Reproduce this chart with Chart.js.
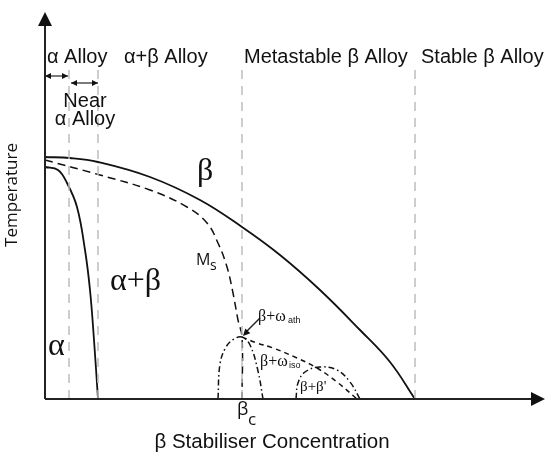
<!doctype html>
<html lang="en">
 <head>
  <meta charset="UTF-8">
  <title>Titanium alloy phase diagram</title>
  <script src="https://cdn.jsdelivr.net/npm/chart.js@4/dist/chart.umd.min.js"></script>
  <style>
   html, body { margin: 0; padding: 0; background: #fff; }
   #wrap { width: 547px; height: 460px; }
  </style>
 </head>
 <body>
  <div id="wrap"><canvas id="chart" width="547" height="460"></canvas></div>
  <script>
// x = beta stabiliser concentration, y = temperature (arbitrary units)
var transusX = [0, 25, 53, 105, 155, 197, 235, 275, 315, 345, 370];
var transusY = [242, 241, 237, 222, 199, 172, 144, 109, 69, 37, 0];

var alphaX = [0, 13, 22, 32, 40, 45, 49, 53];
var alphaY = [232, 229, 216, 192, 149, 109, 59, 0];

var msX = [0, 55, 105, 142, 162, 173, 182, 188, 193, 197, 197];
var msY = [239, 224, 209, 192, 176, 156, 132, 106, 79, 62, 0];

var athX = [173, 175, 181, 189, 197, 205, 213, 218];
var athY = [0, 35, 52, 60, 62, 54, 28, 0];

var isoX = [197, 212, 228, 252, 272, 292, 312];
var isoY = [62, 56, 51, 41, 31, 17, 0];

var primeX = [251, 253, 260, 275, 292, 305, 315];
var primeY = [0, 16, 27, 32, 29, 17, 0];

var classBounds = [24, 53, 197, 370];
var boundTop = 334;

function pts(xs, ys) {
  return xs.map(function (x, i) { return { x: x, y: ys[i] }; });
}

var datasets = [];
classBounds.forEach(function (b) {
  datasets.push({
    data: [{ x: b, y: 0 }, { x: b, y: boundTop }],
    borderColor: '#bdbdbd', borderWidth: 1.5, borderDash: [9, 7], tension: 0
  });
});
datasets.push({ data: pts(transusX, transusY), borderColor: '#111', borderWidth: 1.8 });
datasets.push({ data: pts(alphaX, alphaY), borderColor: '#111', borderWidth: 1.8 });
datasets.push({ data: pts(msX, msY), borderColor: '#111', borderWidth: 1.5, borderDash: [8, 5] });
datasets.push({ data: pts(athX, athY), borderColor: '#111', borderWidth: 1.5, borderDash: [6, 3, 1.5, 3] });
datasets.push({ data: pts(isoX, isoY), borderColor: '#111', borderWidth: 1.5, borderDash: [5, 4] });
datasets.push({ data: pts(primeX, primeY), borderColor: '#111', borderWidth: 1.5, borderDash: [6, 3, 1.5, 3] });
datasets.forEach(function (d) {
  d.showLine = true;
  d.pointRadius = 0;
  if (d.tension === undefined) d.tension = 0.4;
});

// text labels, positions in data units
var texts = [
  { t: 'α Alloy', x: 2, y: 336, font: '20px "Liberation Sans"' },
  { t: 'α+β Alloy', x: 79, y: 336, font: '20px "Liberation Sans"' },
  { t: 'Metastable β Alloy', x: 199, y: 336, font: '20px "Liberation Sans"' },
  { t: 'Stable β Alloy', x: 376, y: 336, font: '20px "Liberation Sans"' },
  { t: 'Near', x: 40, y: 292, font: '20px "Liberation Sans"', align: 'center' },
  { t: 'α Alloy', x: 40, y: 274, font: '20px "Liberation Sans"', align: 'center' },
  { t: 'β', x: 152, y: 219, font: '32px "Liberation Serif"' },
  { t: 'α+β', x: 65, y: 109, font: '32px "Liberation Serif"' },
  { t: 'α', x: 3, y: 44, font: '32px "Liberation Serif"' },
  { t: 'M', x: 151, y: 134, font: '16px "Open Sans"' },
  { t: 's', x: 165, y: 129, font: '14px "Open Sans"' },
  { t: 'β+ω', x: 213, y: 78, font: '16px "Liberation Serif"' },
  { t: 'ath', x: 243, y: 76, font: '9px "Liberation Sans"' },
  { t: 'β+ω', x: 215, y: 33, font: '16px "Liberation Serif"' },
  { t: 'iso', x: 244, y: 31, font: '9px "Liberation Sans"' },
  { t: 'β+β\'', x: 255, y: 8, font: '15px "Liberation Serif"' },
  { t: 'β', x: 192, y: -16, font: '18px "Open Sans"' },
  { t: 'c', x: 203, y: -26, font: '17px "Open Sans"' },
  { t: 'β Stabiliser Concentration', x: 227, y: -49, font: '20.5px "Liberation Sans"', align: 'center' },
  { t: 'Temperature', x: -28, y: 204, font: '17px "Open Sans"', align: 'center', rot: true }
];

function arrowHead(ctx, x1, y1, x2, y2, len, half) {
  var a = Math.atan2(y2 - y1, x2 - x1);
  ctx.beginPath();
  ctx.moveTo(x2, y2);
  ctx.lineTo(x2 - len * Math.cos(a) + half * Math.sin(a), y2 - len * Math.sin(a) - half * Math.cos(a));
  ctx.lineTo(x2 - len * Math.cos(a) - half * Math.sin(a), y2 - len * Math.sin(a) + half * Math.cos(a));
  ctx.closePath();
  ctx.fill();
}

var decor = {
  id: 'decor',
  afterDatasetsDraw: function (chart) {
    var ctx = chart.ctx, xs = chart.scales.x, ys = chart.scales.y;
    var px = function (v) { return xs.getPixelForValue(v); };
    var py = function (v) { return ys.getPixelForValue(v); };
    ctx.save();
    // axes
    ctx.strokeStyle = '#222'; ctx.fillStyle = '#111'; ctx.lineWidth = 2;
    ctx.beginPath();
    ctx.moveTo(px(0), py(0)); ctx.lineTo(px(0), py(376));
    ctx.moveTo(px(0), py(0)); ctx.lineTo(px(490), py(0));
    ctx.stroke();
    arrowHead(ctx, px(0), py(300), px(0), py(387), 14, 7);
    arrowHead(ctx, px(400), py(0), px(500), py(0), 14, 7);
    // double arrows for alpha / near alpha
    ctx.lineWidth = 1.2;
    [[0, 23, 323], [26, 53, 316]].forEach(function (a) {
      ctx.beginPath();
      ctx.moveTo(px(a[0]), py(a[2])); ctx.lineTo(px(a[1]), py(a[2]));
      ctx.stroke();
      arrowHead(ctx, px(a[1]), py(a[2]), px(a[0]), py(a[2]), 6, 3);
      arrowHead(ctx, px(a[0]), py(a[2]), px(a[1]), py(a[2]), 6, 3);
    });
    // pointer to athermal omega
    ctx.lineWidth = 1.4;
    ctx.beginPath();
    ctx.moveTo(px(215), py(81)); ctx.lineTo(px(200), py(66));
    ctx.stroke();
    arrowHead(ctx, px(215), py(81), px(198), py(63), 7, 3.5);
    // labels
    ctx.fillStyle = '#111';
    ctx.textBaseline = 'alphabetic';
    texts.forEach(function (l) {
      ctx.font = l.font;
      ctx.textAlign = l.align || 'left';
      if (l.rot) {
        ctx.save();
        ctx.translate(px(l.x), py(l.y));
        ctx.rotate(-Math.PI / 2);
        ctx.fillText(l.t, 0, 0);
        ctx.restore();
      } else {
        ctx.fillText(l.t, px(l.x), py(l.y));
      }
    });
    ctx.restore();
  }
};

new Chart(document.getElementById('chart'), {
  type: 'scatter',
  data: { datasets: datasets },
  options: {
    responsive: false,
    animation: false,
    layout: { padding: 0 },
    plugins: { legend: { display: false }, tooltip: { enabled: false } },
    scales: {
      x: { type: 'linear', min: -45, max: 502, display: false },
      y: { type: 'linear', min: -61, max: 399, display: false }
    }
  },
  plugins: [decor]
});
  </script>
 </body>
</html>
